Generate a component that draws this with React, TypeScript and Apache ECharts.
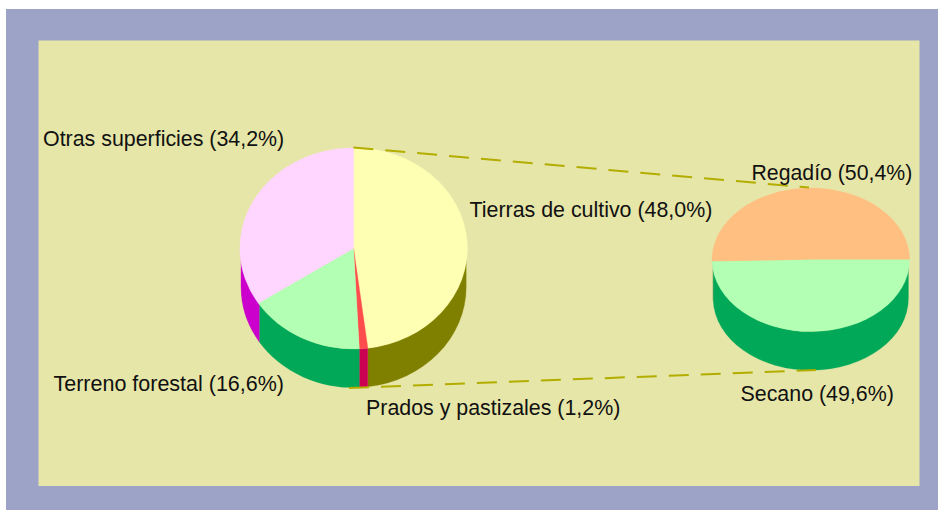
import React, { useEffect, useRef } from "react";
import * as echarts from "echarts";

const mainCategories = ["Tierras de cultivo", "Prados y pastizales", "Terreno forestal", "Otras superficies"];
const mainValues = [48.0, 1.2, 16.6, 34.2];
const mainTop = ["#FFFFB3", "#FF4D4D", "#B3FFB3", "#FFD6FF"];
const mainSide = ["#808000", "#CC0052", "#00A857", "#CC00CC"];

const detailCategories = ["Regadío", "Secano"];
const detailValues = [50.4, 49.6];
const detailTop = ["#FFBF80", "#B3FFB3"];
const detailSide = ["#B38659", "#00A857"];

const mainGeom = { cx: 353.6, cy: 248.4, rx: 113.8, ry: 100.6, depth: 38.6, start: -Math.PI / 2, dir: 1 };
const detailGeom = { cx: 810.8, cy: 259.8, rx: 98.8, ry: 71.8, depth: 38.6, start: 0, dir: -1 };

const mainLabelPos = [[469.5, 209], [366, 407.5], [53.5, 383.5], [43, 138.5]];
const detailLabelPos = [[751.5, 172.5], [740.5, 393]];
const mainLabelScale = [0.955, 0.955, 0.96, 0.955];
const detailLabelScale = [0.95, 0.955];
const LABEL_SIZE = 22.4;

const fmt = (name: string, v: number) => `${name} (${v.toFixed(1).replace(".", ",")}%)`;

type Geom = typeof mainGeom;

function arcs(values: number[], g: Geom) {
  const total = values.reduce((a, b) => a + b, 0);
  let acc = 0;
  return values.map((v) => {
    const a0 = g.start + (g.dir * acc * 2 * Math.PI) / total;
    acc += v;
    const a1 = g.start + (g.dir * acc * 2 * Math.PI) / total;
    return [Math.min(a0, a1), Math.max(a0, a1)];
  });
}

const pt = (g: Geom, a: number, dy = 0, drx = 0) => [g.cx + (g.rx - drx) * Math.cos(a), g.cy + g.ry * Math.sin(a) + dy];

function topPath(g: Geom, a0: number, a1: number) {
  const p0 = pt(g, a0);
  const p1 = pt(g, a1);
  const large = a1 - a0 > Math.PI ? 1 : 0;
  return `M${g.cx} ${g.cy}L${p0[0]} ${p0[1]}A${g.rx} ${g.ry} 0 ${large} 1 ${p1[0]} ${p1[1]}Z`;
}

const WALL_INSET = 1.2;

function sidePath(g: Geom, a0: number, a1: number) {
  const two = 2 * Math.PI;
  const r = g.rx - WALL_INSET;
  for (const k of [-1, 0, 1]) {
    const s = Math.max(a0, k * two);
    const e = Math.min(a1, Math.PI + k * two);
    if (e > s) {
      const p0 = pt(g, s, 0, WALL_INSET);
      const p1 = pt(g, e, 0, WALL_INSET);
      const q1 = pt(g, e, g.depth, WALL_INSET);
      const q0 = pt(g, s, g.depth, WALL_INSET);
      return `M${p0[0]} ${p0[1]}A${r} ${g.ry} 0 0 1 ${p1[0]} ${p1[1]}L${q1[0]} ${q1[1]}A${r} ${g.ry} 0 0 0 ${q0[0]} ${q0[1]}Z`;
    }
  }
  return "";
}

function pieSeries(values: number[], g: Geom, top: string[], side: string[]) {
  const ang = arcs(values, g);
  const make = (kind: "top" | "side", z: number) => ({
    type: "custom",
    coordinateSystem: "none",
    silent: true,
    z,
    data: values,
    renderItem: (params: any) => {
      const i = params.dataIndex;
      const [a0, a1] = ang[i];
      const d = kind === "top" ? topPath(g, a0, a1) : sidePath(g, a0, a1);
      if (!d) return { type: "group", children: [] };
      const fill = kind === "top" ? top[i] : side[i];
      return { type: "path", shape: { pathData: d }, style: { fill, stroke: fill, lineWidth: 0.3 } };
    },
  });
  return [make("side", 3), make("top", 4)];
}

function labelSeries(names: string[], values: number[], pos: number[][], scales: number[]) {
  return {
    type: "custom",
    coordinateSystem: "none",
    silent: true,
    z: 6,
    data: values,
    renderItem: (params: any) => {
      const i = params.dataIndex;
      return {
        type: "text",
        x: pos[i][0],
        y: pos[i][1],
        scaleX: scales[i],
        style: {
          text: fmt(names[i], values[i]),
          fill: "#111111",
          font: `${LABEL_SIZE}px "Liberation Sans", Arial, sans-serif`,
          textAlign: "left",
          textVerticalAlign: "middle",
        },
      };
    },
  };
}

const connector = (x1: number, y1: number, x2: number, y2: number) => ({
  type: "line",
  z: 5,
  shape: { x1, y1, x2, y2 },
  style: { stroke: "#B3AD00", lineWidth: 2, lineDash: [20, 12] },
});

export default function App() {
  const ref = useRef<HTMLDivElement>(null);
  useEffect(() => {
    document.body.style.margin = "0";
    const chart = echarts.init(ref.current!, undefined, { renderer: "svg" });
    chart.setOption({
      animation: false,
      graphic: [
        { type: "rect", z: -10, shape: { x: 6, y: 9, width: 932, height: 501 }, style: { fill: "#9DA3C6" } },
        { type: "rect", z: -9, shape: { x: 38.5, y: 40.5, width: 881, height: 445.5 }, style: { fill: "#E6E6A8" } },
        connector(353.4, 147.5, 809, 187.5),
        connector(349, 388, 816, 370),
      ],
      series: [
        ...pieSeries(mainValues, mainGeom, mainTop, mainSide),
        ...pieSeries(detailValues, detailGeom, detailTop, detailSide),
        labelSeries(mainCategories, mainValues, mainLabelPos, mainLabelScale),
        labelSeries(detailCategories, detailValues, detailLabelPos, detailLabelScale),
      ],
    });
    return () => chart.dispose();
  }, []);
  return <div ref={ref} style={{ width: 938, height: 510, position: "absolute", left: 0, top: 0 }} />;
}
